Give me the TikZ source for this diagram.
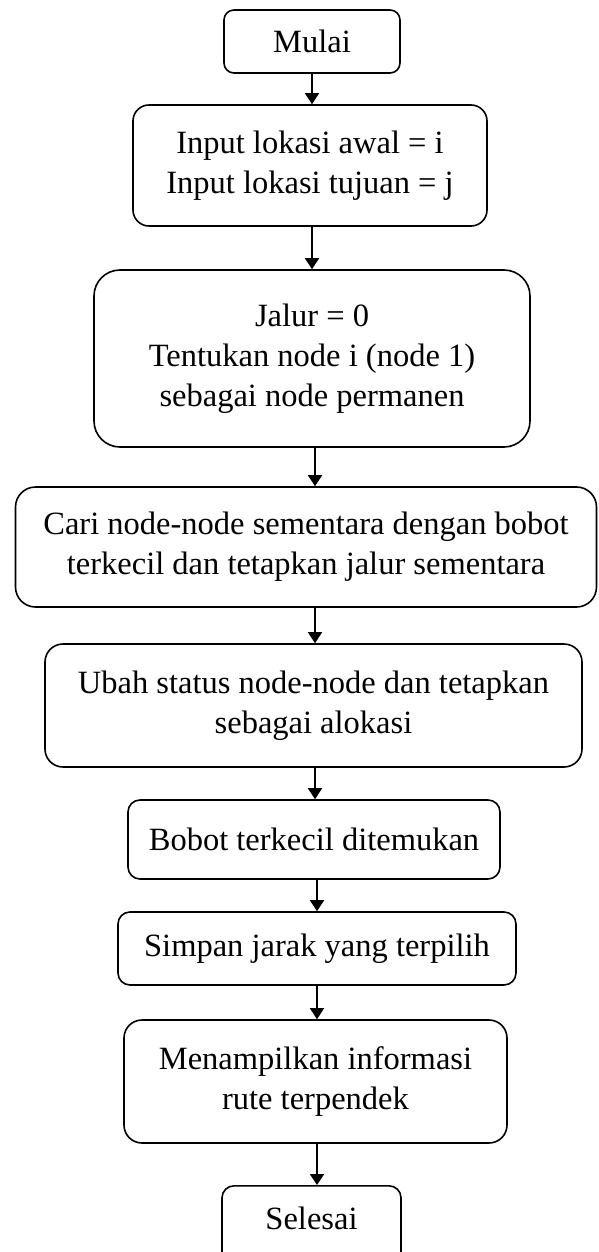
\documentclass[tikz,border=0pt]{standalone}
\usepackage{fontspec}
\setmainfont{Liberation Serif}
\usetikzlibrary{arrows.meta}
\begin{document}
\begin{tikzpicture}[x=1pt,y=-1pt,
  box/.style={draw, line width=1.6pt, align=center, inner sep=0pt,
    font=\fontsize{32.5}{40}\selectfont},
  arr/.style={line width=1.8pt, -{Triangle[length=11pt,width=14pt]}}]
\useasboundingbox (0,0) rectangle (598,1252);
\node[box, rounded corners=10pt, minimum width=176pt, minimum height=63pt] (mulai) at (312,41.5) {Mulai};
\node[box, rounded corners=16pt, minimum width=354pt, minimum height=121pt] (input) at (310,165.5) {Input lokasi awal = i\\Input lokasi tujuan = j};
\node[box, rounded corners=26pt, minimum width=436pt, minimum height=177pt] (jalur) at (312,358.5) {Jalur = 0\\Tentukan node i (node 1)\\sebagai node permanen};
\node[box, rounded corners=20pt, minimum width=581pt, minimum height=120pt] (cari) at (306,547) {Cari node-node sementara dengan bobot\\terkecil dan tetapkan jalur sementara};
\node[box, rounded corners=18pt, minimum width=537pt, minimum height=123pt] (ubah) at (313.5,705.5) {Ubah status node-node dan tetapkan\\sebagai alokasi};
\node[box, rounded corners=12pt, minimum width=372pt, minimum height=79pt] (bobot) at (314,839.5) {Bobot terkecil ditemukan};
\node[box, rounded corners=12pt, minimum width=398pt, minimum height=73pt] (simpan) at (317,948.5) {Simpan jarak yang terpilih};
\node[box, rounded corners=18pt, minimum width=383pt, minimum height=123pt] (tampil) at (315.5,1081.5) {Menampilkan informasi\\rute terpendek};
\node[box, rounded corners=12pt, minimum width=179pt, minimum height=80pt, anchor=north] (selesai) at (311.5,1185) {};
\node[font=\fontsize{32.5}{40}\selectfont] (selesaitxt) at (311.5,1218) {Selesai};
\draw[arr] (mulai.south) -- (mulai.south |- input.north);
\draw[arr] ([xshift=2pt]input.south) -- ([xshift=2pt]input.south |- jalur.north);
\draw[arr] ([xshift=3pt]jalur.south) -- ([xshift=3pt]jalur.south |- cari.north);
\draw[arr] ([xshift=1.5pt]ubah.north |- cari.south) -- ([xshift=1.5pt]ubah.north);
\draw[arr] ([xshift=1.5pt]ubah.south) -- ([xshift=1.5pt]ubah.south |- bobot.north);
\draw[arr] ([xshift=3pt]bobot.south) -- ([xshift=3pt]bobot.south |- simpan.north);
\draw[arr] (simpan.south) -- (simpan.south |- tampil.north);
\draw[arr] ([xshift=1.5pt]tampil.south) -- ([xshift=1.5pt]tampil.south |- selesai.north);
\end{tikzpicture}
\end{document}
